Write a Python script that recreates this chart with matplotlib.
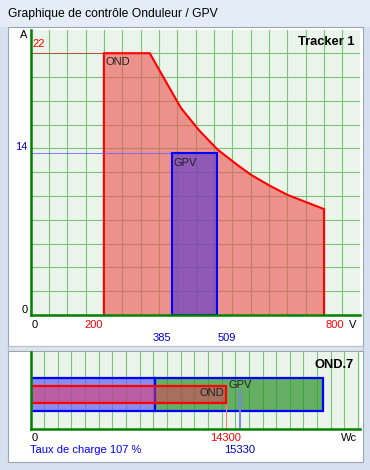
import matplotlib
matplotlib.use("Agg")
import matplotlib.pyplot as plt
from matplotlib.patches import Rectangle, Polygon

plt.rcParams['font.family'] = ['Liberation Sans', 'DejaVu Sans']

# --- data ---
# OND voltage/current envelope (V, A)
ond_v = [200, 200, 325, 360, 410, 460, 510, 560, 600, 650, 700, 750, 800, 800]
ond_i = [0, 22, 22, 20.1, 17.4, 15.5, 13.9, 12.7, 11.8, 10.9, 10.1, 9.5, 8.9, 0]
ond_imax = 22
ond_vmin, ond_vmax = 200, 800
# GPV operating window
gpv_vmin, gpv_vmax = 385, 509
gpv_i = 13.6
i_labels = {"22": 22, "14": 13.6}

# power panel (Wc)
gpv_band = [0, 9120, 21400]
ond_p = 14300
gpv_p = 15330
taux = 107

W, H = 370, 470
fig = plt.figure(figsize=(3.7, 4.7), dpi=100)
fig.patch.set_facecolor('#D5E1EE')


def fx(x):
    return x / W


def fy(y):
    return 1 - y / H


def panel(x0, y0, x1, y1, fc='white', ec='#9AA6B2'):
    fig.patches.append(Rectangle((fx(x0), fy(y1)), (x1 - x0) / W, (y1 - y0) / H,
                                 transform=fig.transFigure, fc=fc, ec=ec, lw=0.8,
                                 zorder=-5))


# window chrome
panel(0, 0, 370, 27, fc='#E4ECF5', ec='none')
panel(8, 27, 363, 346)
panel(8, 346, 363, 351, fc='#DCE3EA', ec='#B8C2CC')
panel(8, 351, 363, 462)
fig.text(fx(8), fy(14), "Graphique de contrôle Onduleur / GPV", fontsize=8.7,
         ha='left', va='center', color='black')

bg = '#EAF4EA'
grid_c = '#7CC47C'
axis_c = '#008000'

# ---------------- top panel: current / voltage ----------------
ax = fig.add_axes([fx(30.5), fy(315), 329.5 / W, 285 / H])
ax.set_facecolor(bg)
ax.set_xlim(0, 898)
ax.set_ylim(0, 23.95)
for v in range(50, 900, 50):
    ax.axvline(v, color=grid_c, lw=0.8, zorder=1)
for i in range(2, 24, 2):
    ax.axhline(i, color=grid_c, lw=0.8, zorder=1)

ax.add_patch(Polygon(list(zip(ond_v, ond_i)), closed=False, fc=(240/255, 80/255, 80/255, 0.6),
                     ec='#FF0000', lw=1.5, zorder=2))
ax.add_patch(Rectangle((gpv_vmin, 0), gpv_vmax - gpv_vmin, gpv_i,
                       fc=(83/255, 53/255, 214/255, 0.6), ec='#0000FF', lw=1.5, zorder=3))
ax.plot([0, ond_vmin], [ond_imax, ond_imax], color='#C0392B', lw=0.7, alpha=0.8, zorder=2)
ax.plot([0, gpv_vmin], [gpv_i, gpv_i], color='#6060FF', lw=0.7, alpha=0.8, zorder=2)

for s in ['top', 'right']:
    ax.spines[s].set_visible(False)
for s in ['left', 'bottom']:
    ax.spines[s].set_color(axis_c)
    ax.spines[s].set_linewidth(1.8)
    ax.spines[s].set_zorder(5)
ax.set_xticks([])
ax.set_yticks([])

xt = ax.get_xaxis_transform()
yt = ax.get_yaxis_transform()


def lab(a, s, xy, tr, off, ha, va, color='black', size=8, **kw):
    a.annotate(s, xy=xy, xycoords=tr, xytext=off, textcoords='offset pixels',
               ha=ha, va=va, color=color, fontsize=size, annotation_clip=False,
               zorder=10, **kw)


lab(ax, "0", (0, 0), xt, (1, -5), 'left', 'top')
lab(ax, str(ond_vmin), (ond_vmin, 0), xt, (-1, -5), 'right', 'top', '#FF0000')
lab(ax, str(ond_vmax), (ond_vmax, 0), xt, (1, -5), 'left', 'top', '#FF0000')
lab(ax, "V", (0.99, 0), 'axes fraction', (0, -5), 'right', 'top')
lab(ax, str(gpv_vmin), (gpv_vmin, 0), xt, (-1, -18), 'right', 'top', '#0000CC')
lab(ax, str(gpv_vmax), (gpv_vmax, 0), xt, (0, -18), 'left', 'top', '#0000CC')

lab(ax, "A", (0, 1), 'axes fraction', (-3, 0), 'right', 'top')
lab(ax, "22", (0, i_labels["22"]), yt, (2, 4), 'left', 'bottom', '#FF0000')
lab(ax, "14", (0, i_labels["14"]), yt, (-3, 1), 'right', 'bottom', '#0000CC')
lab(ax, "0", (0, 0), yt, (-3, 0), 'right', 'bottom')

lab(ax, "OND", (ond_vmin, ond_imax), 'data', (2, -4), 'left', 'top', '#222222')
lab(ax, "GPV", (gpv_vmin, gpv_i), 'data', (2, -5), 'left', 'top', '#222222')
lab(ax, "Tracker 1", (0.982, 0.958), 'axes fraction', (0, 0), 'right', 'center',
    size=9.3, fontweight='bold')

# ---------------- bottom panel: power ----------------
bx = fig.add_axes([fx(30.5), fy(429), 329.5 / W, 77 / H])
bx.set_facecolor(bg)
bx.set_xlim(0, 24140)
bx.set_ylim(0, 1)
for p in range(1000, 24200, 1000):
    bx.axvline(p, color=grid_c, lw=0.8, zorder=1)

y0b, y1b = 0.23, 0.666
y0r, y1r = 0.34, 0.56
bx.add_patch(Rectangle((gpv_band[0], y0b), gpv_band[1] - gpv_band[0], y1b - y0b,
                       fc=(100/255, 96/255, 243/255, 0.7), ec='none', zorder=2))
bx.add_patch(Rectangle((gpv_band[1], y0b), gpv_band[2] - gpv_band[1], y1b - y0b,
                       fc=(43/255, 146/255, 43/255, 0.7), ec='none', zorder=2))
bx.add_patch(Rectangle((gpv_band[0], y0b), gpv_band[2] - gpv_band[0], y1b - y0b,
                       fc='none', ec='#0000FF', lw=1.6, zorder=3))
bx.plot([gpv_band[1]] * 2, [y0b, y1b], color='#0000FF', lw=1.6, zorder=3)
bx.add_patch(Rectangle((0, y0r), ond_p, y1r - y0r,
                       fc=(235/255, 50/255, 90/255, 0.5), ec='#FF0000', lw=1.6, zorder=4))
bx.plot([ond_p, ond_p], [0, y0r], color='#FF8080', lw=0.8, zorder=3)
bx.plot([gpv_p, gpv_p], [0, 0.49], color='#8080FF', lw=1.4, zorder=3)

for s in ['top', 'right']:
    bx.spines[s].set_visible(False)
for s in ['left', 'bottom']:
    bx.spines[s].set_color(axis_c)
    bx.spines[s].set_linewidth(1.8)
    bx.spines[s].set_zorder(5)
bx.set_xticks([])
bx.set_yticks([])

bxt = bx.get_xaxis_transform()
lab(bx, "0", (0, 0), bxt, (1, -4), 'left', 'top')
lab(bx, str(ond_p), (ond_p, 0), bxt, (0, -4), 'center', 'top', '#FF0000')
lab(bx, "Wc", (0.99, 0), 'axes fraction', (0, -4), 'right', 'top')
lab(bx, "Taux de charge %d %%" % taux, (0, 0), bxt, (0, -16), 'left', 'top', '#0000FF')
lab(bx, str(gpv_p), (gpv_p, 0), bxt, (0, -16), 'center', 'top', '#0000CC')
lab(bx, "GPV", (gpv_p, 0.49), 'data', (-11, 1), 'left', 'bottom', '#222222')
lab(bx, "OND", (ond_p, y0r), 'data', (-2, 5), 'right', 'bottom', '#222222')
lab(bx, "OND.7", (0.982, 0.83), 'axes fraction', (0, 0), 'right', 'center',
    size=9.3, fontweight='bold')

fig.savefig("out.png", dpi=100, facecolor=fig.get_facecolor())
